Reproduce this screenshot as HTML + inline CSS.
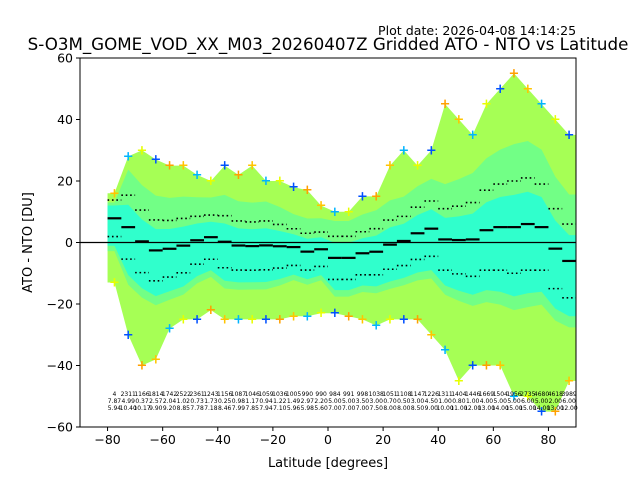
<!DOCTYPE html>
<html><head><meta charset="utf-8">
<style>
body{margin:0;background:#fff;}
svg{display:block;font-family:"DejaVu Sans","Liberation Sans",sans-serif;}
</style></head>
<body>
<svg id="chart" width="640" height="480" viewBox="0 0 640 480" xmlns="http://www.w3.org/2000/svg">
<text x="378" y="35" font-size="12.6">Plot date: 2026-04-08 14:14:25</text>
<text x="328" y="50" font-size="16.7" text-anchor="middle">S-O3M_GOME_VOD_XX_M03_20260407Z Gridded ATO - NTO vs Latitude</text>
<text x="328" y="467" font-size="13" text-anchor="middle">Latitude [degrees]</text>
<text transform="translate(32,242.5) rotate(-90)" font-size="13" text-anchor="middle">ATO - NTO [DU]</text>
<g id="plot"></g>
</svg>
<script>
const binCenters=[-77.5,-72.5,-67.5,-62.5,-57.5,-52.5,-47.5,-42.5,-37.5,-32.5,-27.5,-22.5,-17.5,-12.5,-7.5,-2.5,2.5,7.5,12.5,17.5,22.5,27.5,32.5,37.5,42.5,47.5,52.5,57.5,62.5,67.5,72.5,77.5,82.5,87.5];
const means=[7.87,4.99,0.37,-2.57,-2.04,-1.02,0.73,1.73,0.25,-0.98,-1.17,-0.94,-1.22,-1.49,-2.97,-2.2,-5,-5,-3.5,-3,-0.7,0.5,3,4.5,1,0.8,1,4,5,5,6,5,-2,-6];
const stds=[5.94,10.40,10.17,9.90,9.20,8.85,7.78,7.18,8.46,7.99,7.85,7.94,7.10,5.96,5.98,5.6,7,7,7,7.5,8,8,8.5,9,10,11,12,13,14,15,15,14,13,12];
const counts=[4,2311,1166,1814,1742,2522,2361,1243,1156,1087,1046,1059,1036,1005,990,990,984,991,998,1038,1051,1108,1147,1226,1311,1404,1446,1669,1504,1956,2735,4680,4618,3989];
const envTop=[16,28,30,27,25,25,22,20,25,22,25,20,20,18,17,12,10,10,15,15,25,30,25,30,45,40,35,45,50,55,50,45,40,35];
const envBot=[-13,-30,-40,-38,-28,-25,-25,-22,-25,-25,-25,-25,-25,-24,-24,-23,-23,-24,-25,-27,-25,-25,-25,-30,-35,-45,-40,-40,-40,-50,-50,-55,-55,-45];
const xTicks=[-80,-60,-40,-20,0,20,40,60,80];
const yTicks=[-60,-40,-20,0,20,40,60];
const binWidth=5;

const L=80,R=576,T=58,B=427;
const xs=v=>L+(v+90)/180*(R-L);
const ys=v=>B-(v+60)/120*(B-T);
const NS="http://www.w3.org/2000/svg";
const g=document.getElementById('plot');
function mk(tag,attrs,parent){const e=document.createElementNS(NS,tag);for(const k in attrs)e.setAttribute(k,attrs[k]);(parent||g).appendChild(e);return e;}

const defs=mk('defs',{});
const cp=mk('clipPath',{id:'clip'},defs);
mk('rect',{x:L,y:T,width:R-L,height:B-T},cp);
const data=mk('g',{'clip-path':'url(#clip)'});



function band(topF,botF,color,name){
  const n=binCenters.length;
  let pts=[xs(binCenters[0]-binWidth/2)+','+ys(topF(0))];
  binCenters.forEach((c,i)=>pts.push(xs(c)+','+ys(topF(i))));
  pts.push(xs(binCenters[n-1]+binWidth/2)+','+ys(topF(n-1)));
  pts.push(xs(binCenters[n-1]+binWidth/2)+','+ys(botF(n-1)));
  for(let i=n-1;i>=0;i--)pts.push(xs(binCenters[i])+','+ys(botF(i)));
  pts.push(xs(binCenters[0]-binWidth/2)+','+ys(botF(0)));
  const p=mk('polygon',{points:pts.join(' '),fill:color},data);
  
  
}
band(i=>envTop[i],i=>envBot[i],'#a6ff55','scatter-envelope');
band(i=>Math.min(envTop[i]-3,means[i]+1.8*stds[i]),i=>Math.max(envBot[i]+3,means[i]-1.8*stds[i]),'#72ff86','scatter-core');
band(i=>means[i]+0.7*stds[i],i=>Math.max(envBot[i]+4,means[i]-1.5*stds[i]),'#30ffcc','scatter-dense');

const edgeColors=['#ffc400','#00b4ff','#e6ff00','#0050ff','#ffa000'];
binCenters.forEach((c,i)=>{
  [envTop[i],envBot[i]].forEach((v,j)=>{
    const t=mk('text',{x:xs(c),y:ys(v)+4,'font-size':13,'text-anchor':'middle',fill:edgeColors[(i+j*2)%edgeColors.length],'font-weight':'bold'},data);
    t.textContent='+';
    
    
  });
});

const z=mk('line',{x1:L,x2:R,y1:ys(0),y2:ys(0),stroke:'#000','stroke-width':1.3});



binCenters.forEach((c,i)=>{
  const x1=xs(c-binWidth/2),x2=xs(c+binWidth/2);
  const m=mk('line',{x1:x1,x2:x2,y1:ys(means[i]),y2:ys(means[i]),stroke:'#000','stroke-width':2.2});
  
  
  [means[i]+stds[i],means[i]-stds[i]].forEach(v=>{
    const d=mk('line',{x1:x1,x2:x2,y1:ys(v),y2:ys(v),stroke:'#000','stroke-width':1.6,'stroke-dasharray':'1.6 2.8'});
    
    
  });
  const rows=[String(counts[i]),Math.abs(means[i]).toFixed(2),stds[i].toFixed(2)];
  rows.forEach((s,r)=>{
    const t=mk('text',{x:xs(c),y:396+r*7,'font-size':6,'text-anchor':'middle',fill:'#000'});
    t.textContent=s;
    
    
  });
});

const fr=mk('rect',{x:L,y:T,width:R-L,height:B-T,fill:'none',stroke:'#000','stroke-width':1});


xTicks.forEach(v=>{
  const l=mk('line',{x1:xs(v),x2:xs(v),y1:B,y2:B+4,stroke:'#000'});
  
  
  const t=mk('text',{x:xs(v),y:B+17,'font-size':12.5,'text-anchor':'middle'});
  t.textContent=v<0?'\u2212'+(-v):String(v);
  
  
});
yTicks.forEach(v=>{
  const l=mk('line',{x1:L-4,x2:L,y1:ys(v),y2:ys(v),stroke:'#000'});
  
  
  const t=mk('text',{x:L-7,y:ys(v)+4.5,'font-size':12.5,'text-anchor':'end'});
  t.textContent=v<0?'\u2212'+(-v):String(v);
  
  
});
</script>
</body></html>
